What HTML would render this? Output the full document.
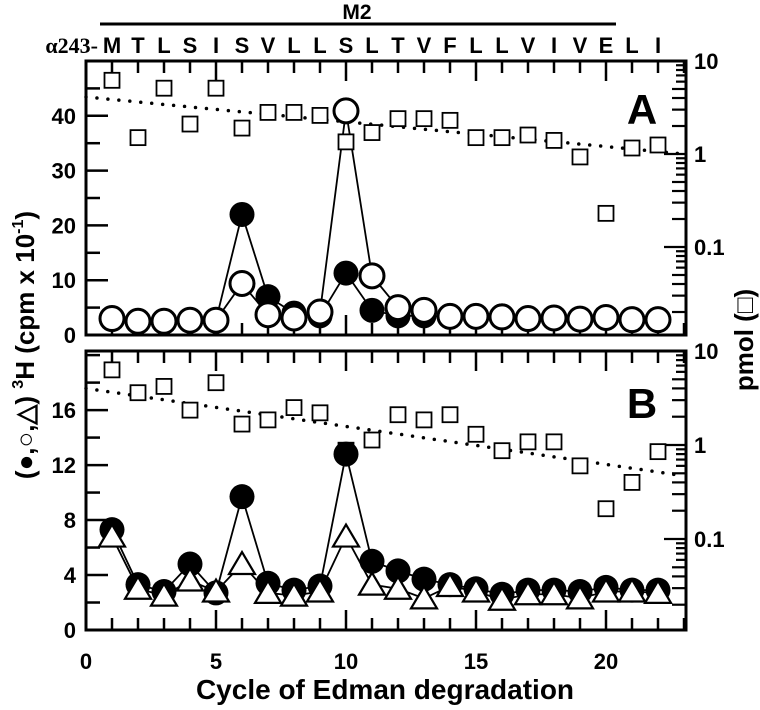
<!DOCTYPE html>
<html><head><meta charset="utf-8"><style>
body{margin:0;background:#fff}
svg{display:block;font-family:"Liberation Sans",Arial,sans-serif;font-weight:bold}
</style></head><body>
<svg id="chart" width="760" height="710" viewBox="0 0 760 710">
</svg>
<script>
const cycles=[1,2,3,4,5,6,7,8,9,10,11,12,13,14,15,16,17,18,19,20,21,22];
const residues=["M","T","L","S","I","S","V","L","L","S","L","T","V","F","L","L","V","I","V","E","L","I"];
const aFilled=[3,2.5,2.5,2.7,2.7,22,7,4,3.5,11.3,4.5,3.5,3.5,3.3,3.3,3.5,3,3.2,3,3.2,2.8,2.8];
const aOpen=[3,2.5,2.5,2.7,2.7,9.4,3.7,3.1,4.2,40.9,10.8,5,4.5,3.4,3.4,3.3,3,3.1,2.9,3.2,2.8,2.8];
const aPmol=[6.2,1.5,5.1,2.1,5.1,1.9,2.8,2.8,2.6,1.35,1.7,2.4,2.4,2.3,1.5,1.5,1.6,1.4,0.93,0.23,1.16,1.25];
const aFit=[4.1,1.0];
const bFilled=[7.3,3.3,2.8,4.8,2.7,9.7,3.4,2.9,3.2,12.8,5,4.3,3.7,3.3,3,2.6,2.9,2.9,2.8,3.1,2.9,2.9];
const bTri=[6.8,3,2.5,3.6,2.8,4.8,2.7,2.5,2.8,6.8,3.3,3,2.3,3.2,2.8,2.2,2.6,2.6,2.3,2.8,2.8,2.7];
const bPmol=[6.3,3.6,4.2,2.35,4.6,1.67,1.85,2.5,2.2,0.88,1.13,2.1,1.85,2.1,1.3,0.87,1.08,1.08,0.6,0.21,0.4,0.85];
const bFit=[4.0,0.47];
const xTicks=[0,5,10,15,20];
const aTicks=[0,10,20,30,40];
const bTicks=[0,4,8,12,16];
const logLabels=["10","1","0.1"];

const NS="http://www.w3.org/2000/svg";
const svg=document.getElementById('chart');
function mk(tag,attrs,parent,txt){const e=document.createElementNS(NS,tag);for(const k in attrs)e.setAttribute(k,attrs[k]);if(txt!==undefined)e.textContent=txt;(parent||svg).appendChild(e);return e;}
const X0=86,XS=26,XR=686;
const xs=c=>X0+c*XS;

function panel(name,top,bot,ymax,logTop,decPx,lin,minorStep){
  const g=mk('g',{});
  
  
  const ys=v=>bot-(bot-top)*v/ymax;
  const ls=v=>top+(Math.log10(logTop)-Math.log10(v))*decPx;
  for(let c=0;c<=23;c++){const L=(c%5===0)?20:12;
    mk('line',{x1:xs(c),x2:xs(c),y1:bot,y2:bot-L,stroke:'#000','stroke-width':2.5},g);
    mk('line',{x1:xs(c),x2:xs(c),y1:top,y2:top+L,stroke:'#000','stroke-width':2.5},g);}
  for(let v=0;v<=ymax;v+=minorStep){const maj=lin.includes(v);
    mk('line',{x1:X0,x2:X0+(maj?22:14),y1:ys(v),y2:ys(v),stroke:'#000','stroke-width':2.5},g);}
  lin.forEach(v=>{const t=mk('text',{x:X0-10,y:ys(v)+8,'text-anchor':'end','font-size':22},g,String(v));
    });
  const lo=Math.log10(logTop)-(bot-top)/decPx;
  for(let d=Math.floor(lo);d<=Math.log10(logTop);d++){for(let m=1;m<=9;m++){const v=m*Math.pow(10,d);const y=ls(v);
    if(y<top-0.5||y>bot+0.5)continue;
    mk('line',{x1:XR,x2:XR-(m===1?22:(m>5?10:14)),y1:y,y2:y,stroke:'#000','stroke-width':2.2},g);}}
  logLabels.forEach((s,i)=>{const t=mk('text',{x:XR+8,y:ls(logTop/Math.pow(10,i))+8,'font-size':22},g,s);
    });
  mk('rect',{x:X0,y:top,width:XR-X0,height:bot-top,fill:'none',stroke:'#000','stroke-width':3},g);
  return {g,ys,ls};
}

function fitLine(p,fit,name){
  const l=mk('line',{x1:xs(0),x2:xs(23),y1:p.ls(fit[0]),y2:p.ls(fit[1]),stroke:'#000','stroke-width':3.5,'stroke-dasharray':'0 11','stroke-linecap':'round'},p.g);
  
}
function series(p,vals,kind,name){
  const gg=mk('g',{},p.g);
  
  
  if(kind!=='square'){
    mk('polyline',{points:vals.map((v,i)=>xs(cycles[i])+','+p.ys(v)).join(' '),fill:'none',stroke:'#000','stroke-width':1.8},gg);
  }
  vals.forEach((v,i)=>{const x=xs(cycles[i]);let e;
    if(kind==='filled'){e=mk('circle',{cx:x,cy:p.ys(v),r:12.5,fill:'#000'},gg);}
    else if(kind==='open'){e=mk('circle',{cx:x,cy:p.ys(v),r:12,fill:'#fff',stroke:'#000','stroke-width':3},gg);}
    else if(kind==='tri'){const y=p.ys(v);e=mk('polygon',{points:`${x},${y-12} ${x-13},${y+10} ${x+13},${y+10}`,fill:'#fff',stroke:'#000','stroke-width':2.2},gg);}
    else {const y=p.ls(v);e=mk('rect',{x:x-7.5,y:y-7.5,width:15,height:15,fill:'#fff',stroke:'#000','stroke-width':1.8},gg);}
    
    
  });
}

const A=panel('a',61,335,50,10,93,aTicks,5);
fitLine(A,aFit,'fit-line-a');
series(A,aFilled,'filled','series-a-filled');
series(A,aOpen,'open','series-a-open');
series(A,aPmol,'square','series-a-pmol');
const B=panel('b',351,630,20.3,10,94,bTicks,2);
fitLine(B,bFit,'fit-line-b');
series(B,bPmol,'square','series-b-pmol');
series(B,bFilled,'filled','series-b-filled');
series(B,bTri,'tri','series-b-triangle');

let t;
t=mk('text',{x:642,y:124,'font-size':42,'text-anchor':'middle'},A.g,'A');

t=mk('text',{x:642,y:418,'font-size':42,'text-anchor':'middle'},B.g,'B');


xTicks.forEach(c=>{const e=mk('text',{x:xs(c),y:669,'font-size':22,'text-anchor':'middle'},svg,String(c));
  });
residues.forEach((r,i)=>{const e=mk('text',{x:xs(cycles[i]),y:53,'font-size':22,'text-anchor':'middle'},svg,r);
  });
t=mk('text',{x:98,y:53,'font-size':22,'font-family':'"Liberation Serif",serif','text-anchor':'end'},svg,'\u03b1243-');

t=mk('line',{x1:100,x2:616,y1:24,y2:24,stroke:'#000','stroke-width':3});

t=mk('text',{x:357,y:19,'font-size':21,'text-anchor':'middle'},svg,'M2');

t=mk('text',{x:385,y:699,'font-size':28,'text-anchor':'middle'},svg,'Cycle of Edman degradation');

t=mk('text',{x:0,y:0,'font-size':26,'text-anchor':'middle',transform:'translate(34,345) rotate(-90)'},svg);

t.innerHTML='(\u25cf,\u25cb,\u25b3) <tspan font-size="16" dy="-11">3</tspan><tspan dy="11">H (cpm x 10</tspan><tspan font-size="16" dy="-11">-1</tspan><tspan dy="11">)</tspan>';
t=mk('text',{x:0,y:0,'font-size':26,'text-anchor':'middle',transform:'translate(753,340) rotate(-90)'},svg,'pmol (\u25a1)');

</script>
</body></html>
